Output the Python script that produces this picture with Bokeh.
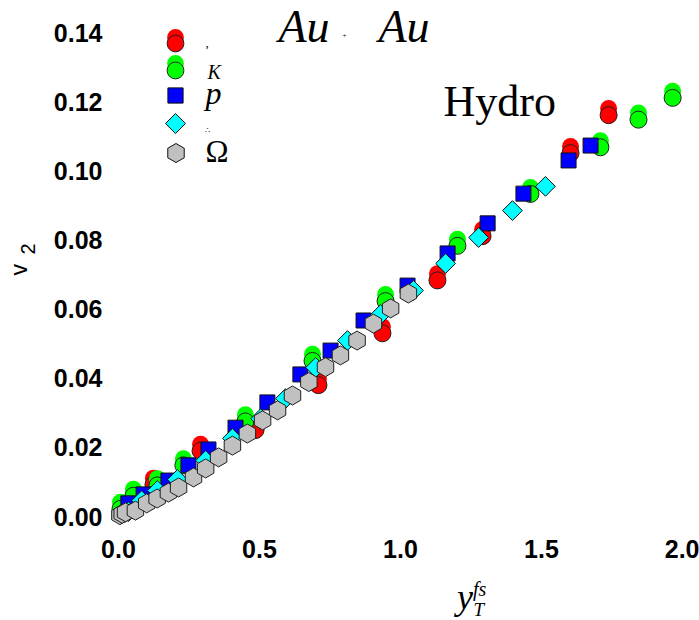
import numpy as np
from bokeh.plotting import figure
from bokeh.layouts import row, column
from bokeh.models import (Label, Legend, LegendItem, FixedTicker, PrintfTickFormatter,
                          ColumnDataSource, Range1d, PolyAnnotation)
from bokeh.embed import file_html
from bokeh.resources import INLINE

# ---------------- data ----------------
pi_x = [0.014, 0.124, 0.291, 0.486, 0.709, 0.936, 1.131, 1.291, 1.603, 1.738]
pi_y = [0.0008, 0.0092, 0.0190, 0.0250, 0.0380, 0.0530, 0.0683, 0.0811, 0.1051, 0.1161]

k_x = [0.007, 0.053, 0.138, 0.230, 0.450, 0.688, 0.947, 1.202, 1.461, 1.709, 1.844, 1.965]
k_y = [0.0022, 0.0060, 0.0090, 0.0148, 0.0275, 0.0450, 0.0623, 0.0783, 0.0933, 0.1068, 0.1148, 0.1211]

p_x = [0.035, 0.089, 0.177, 0.248, 0.319, 0.415, 0.528, 0.645, 0.752, 0.869,
       1.025, 1.167, 1.309, 1.436, 1.596, 1.674]
p_y = [0.0038, 0.0064, 0.0104, 0.0148, 0.0194, 0.0257, 0.0330, 0.0411, 0.0480, 0.0567,
       0.0668, 0.0761, 0.0848, 0.0934, 0.1030, 0.1073]

lam_x = [0.035, 0.082, 0.138, 0.209, 0.309, 0.404, 0.504, 0.592, 0.699, 0.812,
         0.929, 1.046, 1.160, 1.277, 1.397, 1.514]
lam_y = [0.0014, 0.0046, 0.0075, 0.0107, 0.0162, 0.0226, 0.0283, 0.0341, 0.0431, 0.0509,
         0.0584, 0.0654, 0.0732, 0.0807, 0.0885, 0.0955]

om_x = [0.005, 0.013, 0.025, 0.060, 0.100, 0.137, 0.177, 0.213, 0.266, 0.309, 0.355,
        0.404, 0.457, 0.511, 0.564, 0.617, 0.675, 0.734, 0.787, 0.846, 0.904, 0.965, 1.028]
om_y = [0.0004, 0.0008, 0.0012, 0.0017, 0.0038, 0.0052, 0.0069, 0.0084, 0.0113, 0.0139, 0.0171,
        0.0205, 0.0240, 0.0278, 0.0307, 0.0350, 0.0389, 0.0432, 0.0466, 0.0509, 0.0558, 0.0602, 0.0645]

x_ticks = [0.0, 0.5, 1.0, 1.5, 2.0]
y_ticks = [0.00, 0.02, 0.04, 0.06, 0.08, 0.10, 0.12, 0.14]

# visual offset of the bright "shadow" circle drawn above each circle marker
shadow_dy = 0.0019

SERIF = "Liberation Serif"
SANS = "Liberation Sans"

# screen scale of the main frame (pixels per data unit), used to size legend keys / text offsets
PX_X = 282.0
PX_Y = 3457.0
BASE = 0.31  # glyph baseline sits this many font-sizes below a Label's anchor

# ---------------- main figure ----------------
p = figure(width=659, height=570, output_backend="svg", toolbar_location=None, title=None,
           x_range=Range1d(-0.03546, 2.0603), y_range=Range1d(-0.00347, 0.14811),
           min_border_left=68, min_border_right=0, min_border_top=4, min_border_bottom=42)
p.outline_line_color = None
p.background_fill_color = "white"
p.border_fill_color = "white"
p.grid.visible = False

for ax in (p.xaxis[0], p.yaxis[0]):
    ax.axis_line_color = None
    ax.major_tick_line_color = None
    ax.minor_tick_line_color = None
    ax.major_tick_out = 0
    ax.major_tick_in = 0
    ax.minor_tick_out = 0
    ax.major_label_text_font = SANS
    ax.major_label_text_font_style = "bold"
    ax.major_label_text_font_size = "25px"
    ax.major_label_text_color = "black"

p.xaxis.ticker = FixedTicker(ticks=x_ticks)
p.yaxis.ticker = FixedTicker(ticks=y_ticks)
p.xaxis.formatter = PrintfTickFormatter(format="%.1f")
p.yaxis.formatter = PrintfTickFormatter(format="%.2f")
p.xaxis.major_label_standoff = 11
p.yaxis.major_label_standoff = 6

# ---------------- marks ----------------
def circles(xs, ys, color):
    src = ColumnDataSource(dict(x=xs, y=ys, ys=[v + shadow_dy for v in ys]))
    r1 = p.scatter("x", "ys", source=src, marker="circle", size=17,
                   fill_color=color, line_color=None)
    r2 = p.scatter("x", "y", source=src, marker="circle", size=17,
                   fill_color=color, line_color="#202020", line_width=1)
    return r1, r2

r_pi_s, r_pi = circles(pi_x, pi_y, "#ff0000")
r_k_s, r_k = circles(k_x, k_y, "#00ff00")
r_p = p.scatter(p_x, p_y, marker="square", size=15, fill_color="#0000ff",
                line_color="#101010", line_width=1)
r_lam = p.scatter(lam_x, lam_y, marker="square", size=14, angle=np.pi / 4,
                  fill_color="#00ffff", line_color="#101010", line_width=1)
r_om = p.scatter(om_x, om_y, marker="hex", size=19, angle=np.pi / 6,
                 fill_color="#c0c0c0", line_color="#202020", line_width=1)

# ---------------- legend ----------------
def key(renderer, loc, g):
    lg = Legend(items=[LegendItem(label=" ", renderers=[renderer])], location=loc,
                glyph_width=g, glyph_height=g, padding=0, margin=0, spacing=0,
                border_line_color=None, background_fill_alpha=0,
                label_text_font_size="1px", label_width=1, label_height=1, label_standoff=0)
    p.add_layout(lg)

key(r_pi_s, (46, 470), 42)
key(r_pi, (46, 464), 42)
key(r_k_s, (46, 444), 42)
key(r_k, (46, 437), 42)
key(r_p, (48, 414), 38)

# rotated keys (legends do not rotate markers): diamond and pointy-top hexagon
def poly_key(cx, cy, radius_px, n, phase, color):
    ang = phase + 2 * np.pi * np.arange(n) / n
    xs = list(cx + radius_px * np.cos(ang) / PX_X)
    ys = list(cy + radius_px * np.sin(ang) / PX_Y)
    p.add_layout(PolyAnnotation(xs=xs, ys=ys, fill_color=color, fill_alpha=1.0,
                                line_color="#101010", line_alpha=1.0, line_width=1))

poly_key(0.2021, 0.11368, 10.0, 4, 0.0, "#00ffff")
poly_key(0.2039, 0.10515, 9.5, 6, np.pi / 2, "#c0c0c0")

# ---------------- texts ----------------
def lab(fig, x, y, text, size, font=SERIF, style="normal", angle=0.0):
    fig.add_layout(Label(x=x, y=y, text=text, text_font=font, text_font_style=style,
                         text_font_size=f"{size}px", text_color="black", text_align="left",
                         text_baseline="alphabetic", angle=angle))

def plab(x, y, text, size, **kw):
    # y is the wanted glyph baseline in data units
    lab(p, x, y + BASE * size / PX_Y, text, size, **kw)

# title "Au + Au"
plab(0.5674, 0.1377, "Au", 46, style="italic")
plab(0.794, 0.1385, "+", 7)
plab(0.922, 0.1377, "Au", 46, style="italic")
# Hydro
plab(1.1525, 0.1160, "Hydro", 44)
# legend labels
plab(0.3085, 0.1359, ",", 13)
plab(0.3156, 0.1267, "K", 20, style="italic")
plab(0.3085, 0.1195, "p", 32, style="italic")
plab(0.3085, 0.1108, "∴", 8)
plab(0.3085, 0.1027, "Ω", 31)

# ---------------- y-axis title (left strip, pixel coordinates, y upward) ----------------
pl = figure(width=40, height=620, output_backend="svg", toolbar_location=None, title=None,
            x_range=Range1d(0, 40), y_range=Range1d(0, 620),
            x_axis_type=None, y_axis_type=None, min_border=0)
pl.outline_line_color = None
lab(pl, 26 - BASE * 23, 345, "v", 23, font=SANS, angle=np.pi / 2)
lab(pl, 34 - BASE * 20, 366, "2", 20, font=SANS, angle=np.pi / 2)

# ---------------- x-axis title (bottom strip, shares the x scale) ----------------
pb = figure(width=659, height=50, output_backend="svg", toolbar_location=None, title=None,
            x_range=p.x_range, y_range=Range1d(0, 50),
            x_axis_type=None, y_axis_type=None,
            min_border_left=68, min_border_right=0, min_border_top=0, min_border_bottom=0)
pb.outline_line_color = None
lab(pb, 1.2000, 12 + BASE * 36, "y", 36, style="italic")
lab(pb, 1.2570, 25 + BASE * 20, "fs", 20, style="italic")
lab(pb, 1.2589, 5 + BASE * 19, "T", 19, style="italic")

layout = row(pl, column(p, pb))
open("out.html", "w").write(file_html(layout, INLINE))
